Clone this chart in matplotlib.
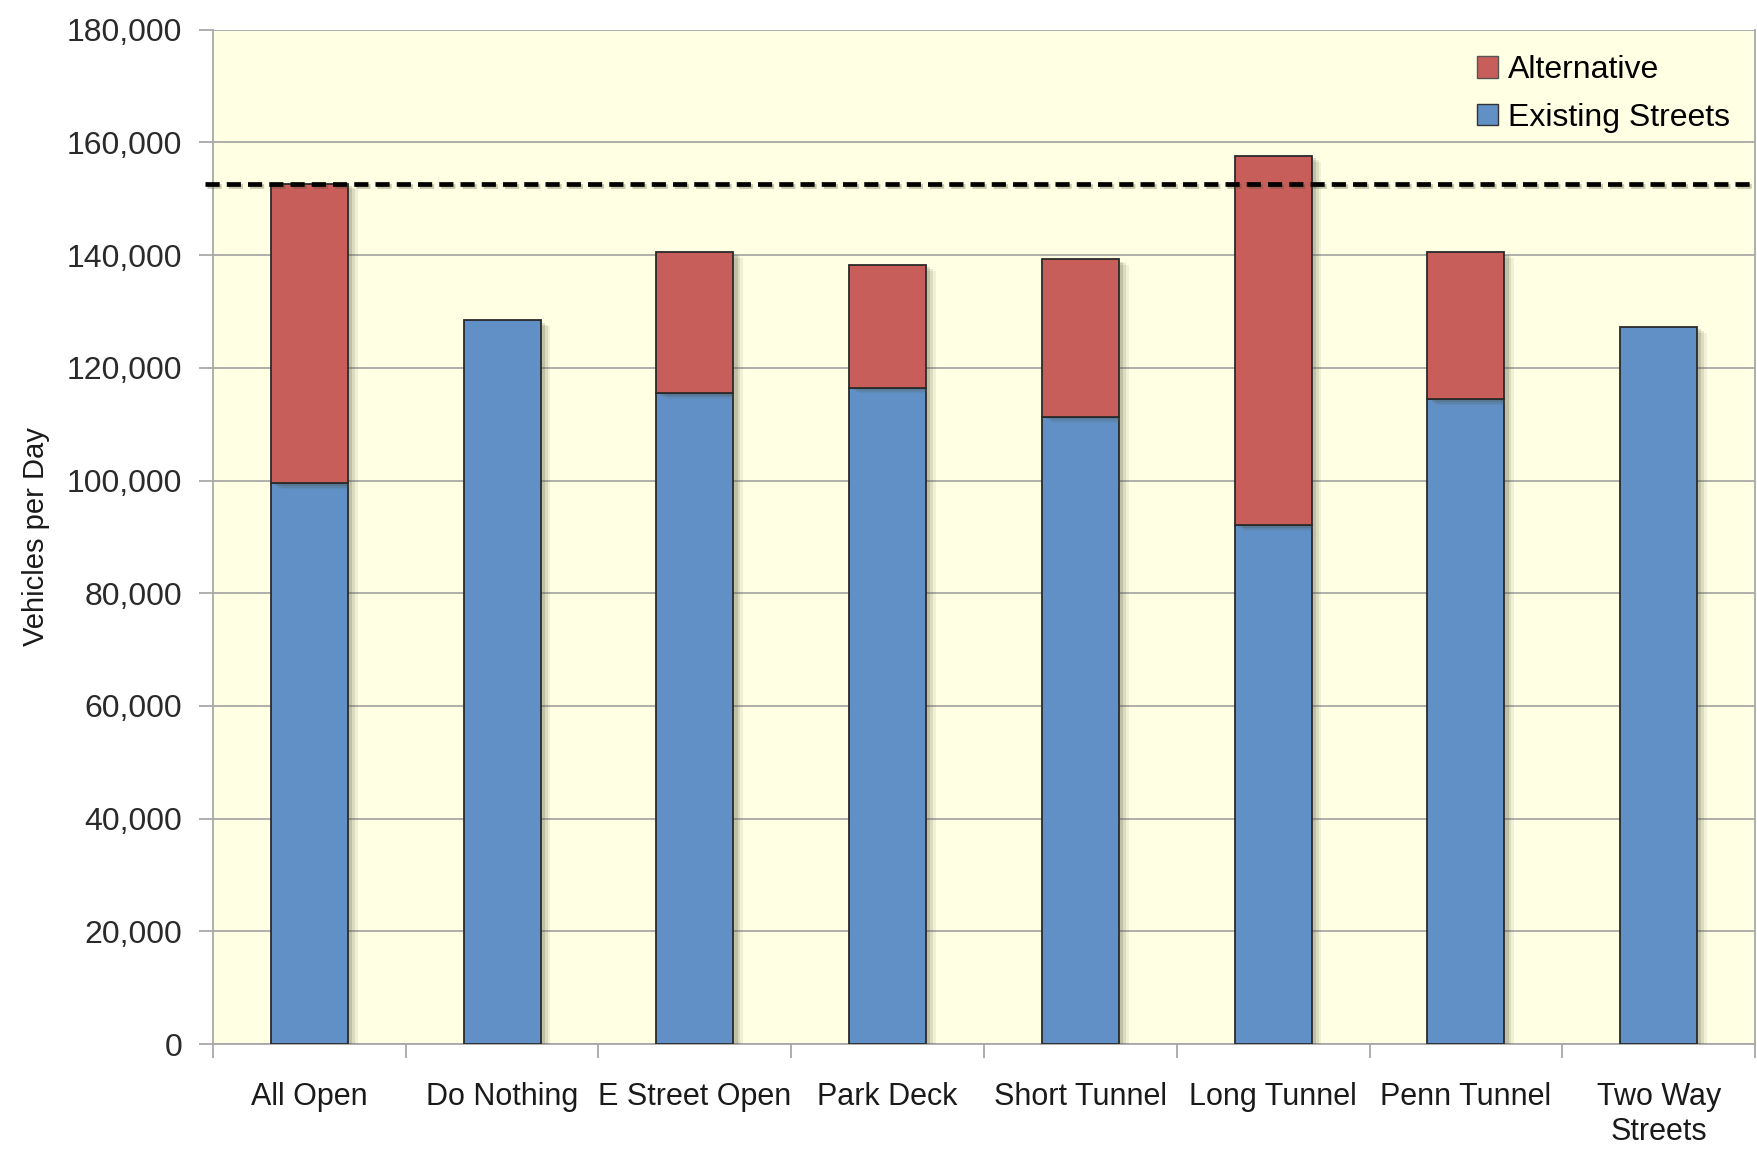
import matplotlib
matplotlib.use("Agg")
import matplotlib.pyplot as plt
import matplotlib.patheffects as pe
from matplotlib.patches import Patch
import numpy as np

plt.rcParams["font.family"] = ["Liberation Sans", "DejaVu Sans"]

# traffic volumes per option
options = ["All Open", "Do Nothing", "E Street Open", "Park Deck",
           "Short Tunnel", "Long Tunnel", "Penn Tunnel", "Two Way\nStreets"]
existing = [99500, 128400, 115500, 116500, 111300, 92100, 114400, 127300]
alternative = [53200, 0, 25000, 21800, 28000, 65500, 26100, 0]
capacity = 152700

yticks = np.arange(0, 180001, 20000)

blue = "#6090c5"
red = "#c85e5a"
bg = "#ffffe4"
grid = "#a8a8a8"

fig = plt.figure(figsize=(17.57, 11.74), dpi=100)
ax = fig.add_axes([0.1212, 0.1107, 0.8777, 0.864])
ax.set_facecolor(bg)

x = np.arange(len(options))
# soft drop shadow built from a few offset layers
shadow = [pe.SimplePatchShadow(offset=(d, -d * 0.6), shadow_rgbFace="#4a4a30", alpha=a)
          for d, a in ((7, 0.08), (5, 0.12), (3, 0.18))] + [pe.Normal()]

b1 = ax.bar(x, existing, width=0.4, color=blue, edgecolor="#2a2a2a", lw=1.3, zorder=3)
b2 = ax.bar(x, alternative, bottom=existing, width=0.4, color=red,
            edgecolor="#2a2a2a", lw=1.3, zorder=3)
for bars in (b1, b2):
    for p in bars:
        if p.get_height() > 0:
            p.set_path_effects(shadow)
        else:
            p.set_visible(False)

ax.axhline(capacity, xmin=-0.005, color="black", lw=3.4, ls=(0, (3.0, 1.5)),
           zorder=4, clip_on=False,
           path_effects=[pe.SimpleLineShadow(offset=(1, -2), shadow_color="#4a4a30", alpha=0.3),
                         pe.Normal()])

ax.set_xlim(-0.5, len(options) - 0.5)
ax.set_ylim(0, 180000)
ax.set_yticks(yticks)
ax.set_yticklabels([f"{v:,}" for v in yticks])
ax.yaxis.grid(True, color=grid, lw=1.3, zorder=0)
ax.set_axisbelow(True)

# tick marks between categories, labels under each bar
ax.set_xticks(np.arange(-0.5, len(options), 1.0))
ax.set_xticklabels([])
ax.set_xticks(x, minor=True)
ax.set_xticklabels(options, minor=True, fontsize=22, color="#1a1a1a", linespacing=1.25)
ax.tick_params(axis="x", which="minor", length=0, pad=27)
ax.tick_params(axis="x", which="major", length=10, width=1.3, color=grid)
ax.tick_params(axis="y", length=10, width=1.3, color=grid, pad=12,
               labelsize=23, labelcolor="#2a2a2a")

for s in ax.spines.values():
    s.set_color(grid)
    s.set_linewidth(1.3)
ax.spines["top"].set_visible(False)

ax.set_ylabel("Vehicles per Day", fontsize=21, color="#1a1a1a", labelpad=12)

handles = [Patch(facecolor=red, edgecolor="#555555", label="Alternative"),
           Patch(facecolor=blue, edgecolor="#333333", label="Existing Streets")]
ax.legend(handles=handles, loc="upper right", frameon=False, fontsize=23,
          handlelength=0.65, handleheight=0.65, handletextpad=0.3,
          labelspacing=0.55, borderaxespad=0.4)

fig.savefig("out.png", dpi=100, facecolor="white")
